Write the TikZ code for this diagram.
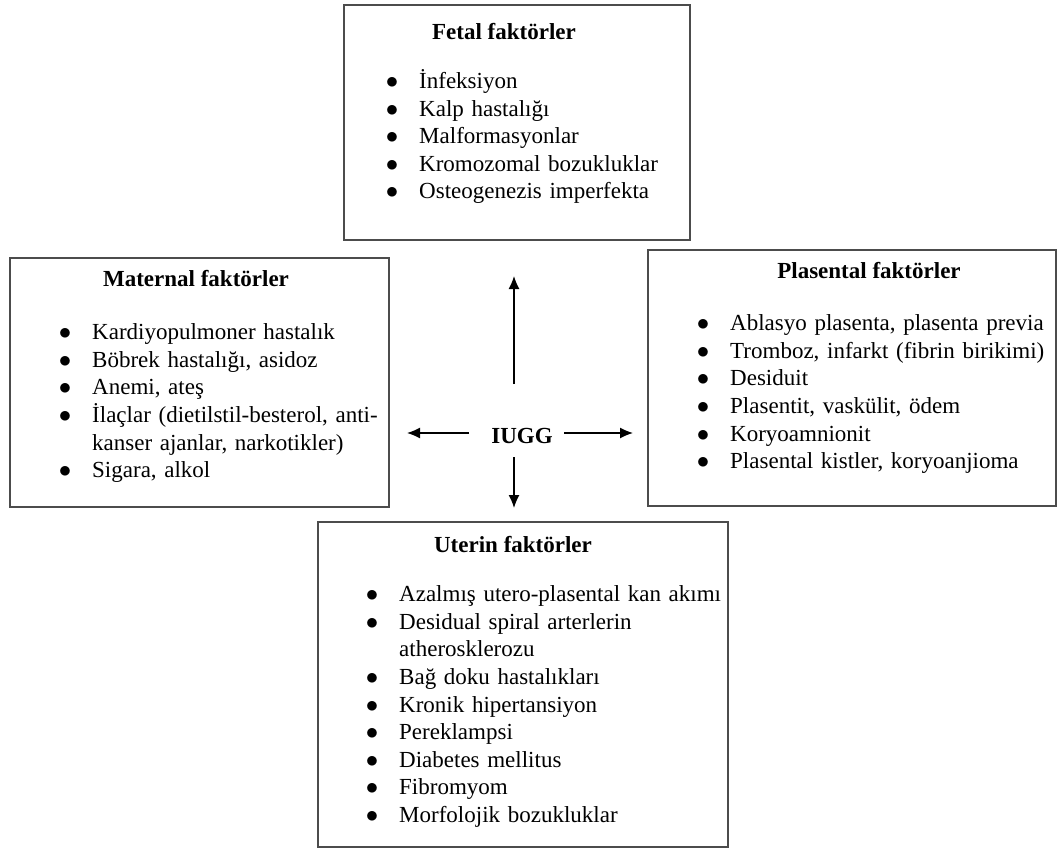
\documentclass[tikz,border=0pt]{standalone}
\usepackage{fontspec}
\setmainfont{Liberation Serif}
\usepackage{enumitem}
\usetikzlibrary{arrows.meta}
\setlist[itemize]{nosep, leftmargin=29pt, labelsep=21pt, label=$\bullet$}
\tikzset{
    factor box/.style = {draw = black!70, line width = 1.3pt, inner sep = 0pt},
    factor title/.style = {font = \fontsize{23}{27.6}\selectfont\bfseries, anchor = base},
    factor list/.style = {anchor = base west, inner sep = 0pt, text width = 400pt, align = left},
}
\tikzset{
    cause/.style = {draw, line width = 1.3pt, -{Latex[length = 13pt, width = 11pt]}},
}

\begin{document}
\begin{tikzpicture}[x = 1pt, y = -1pt, font = \fontsize{23}{27.6}\selectfont]
    \useasboundingbox (0, 0) rectangle (1059, 850);

    \node[factor box, minimum width = 346pt, minimum height = 235pt] (fetal) at (517, 122.5) {};
    \node[factor box, minimum width = 379pt, minimum height = 249pt] (maternal) at (199.5, 382.5) {};
    \node[factor box, minimum width = 408pt, minimum height = 256pt] (plasental) at (852, 378) {};
    \node[factor box, minimum width = 410pt, minimum height = 325pt] (uterin) at (523, 684.5) {};

    \node[factor title] (fetal title) at (504, 40) {Fetal faktörler};
    \node[factor title] (maternal title) at (196, 286) {Maternal faktörler};
    \node[factor title] (plasental title) at (869, 278) {Plasental faktörler};
    \node[factor title] (uterin title) at (513, 552) {Uterin faktörler};

    \node[factor list] (fetal list) at (390, 61) {\begin{itemize}
        \item İnfeksiyon
        \item Kalp hastalığı
        \item Malformasyonlar
        \item Kromozomal bozukluklar
        \item Osteogenezis imperfekta
    \end{itemize}};
    \node[factor list] (maternal list) at (63, 312) {\begin{itemize}
        \item Kardiyopulmoner hastalık
        \item Böbrek hastalığı, asidoz
        \item Anemi, ateş
        \item İlaçlar (dietilstil-besterol, anti-\\kanser ajanlar, narkotikler)
        \item Sigara, alkol
    \end{itemize}};
    \node[factor list] (plasental list) at (701, 303) {\begin{itemize}
        \item Ablasyo plasenta, plasenta previa
        \item Tromboz, infarkt (fibrin birikimi)
        \item Desiduit
        \item Plasentit, vaskülit, ödem
        \item Koryoamnionit
        \item Plasental kistler, koryoanjioma
    \end{itemize}};
    \node[factor list] (uterin list) at (370, 574) {\begin{itemize}
        \item Azalmış utero-plasental kan akımı
        \item Desidual spiral arterlerin\\atherosklerozu
        \item Bağ doku hastalıkları
        \item Kronik hipertansiyon
        \item Pereklampsi
        \item Diabetes mellitus
        \item Fibromyom
        \item Morfolojik bozukluklar
    \end{itemize}};

    \node[factor title] (iugg) at (522, 443) {IUGG};

    \coordinate (iugg up) at (514, 384);
    \coordinate (iugg down) at (514, 457);
    \coordinate (iugg left) at (469, 433);
    \coordinate (iugg right) at (564, 433);
    \coordinate (to fetal) at (514, 276);
    \coordinate (to uterin) at (514, 508);
    \coordinate (to maternal) at (407, 433);
    \coordinate (to plasental) at (633, 433);

    \draw[cause] (iugg up) -- (to fetal);
    \draw[cause] (iugg down) -- (to uterin);
    \draw[cause] (iugg left) -- (to maternal);
    \draw[cause] (iugg right) -- (to plasental);
\end{tikzpicture}
\end{document}
